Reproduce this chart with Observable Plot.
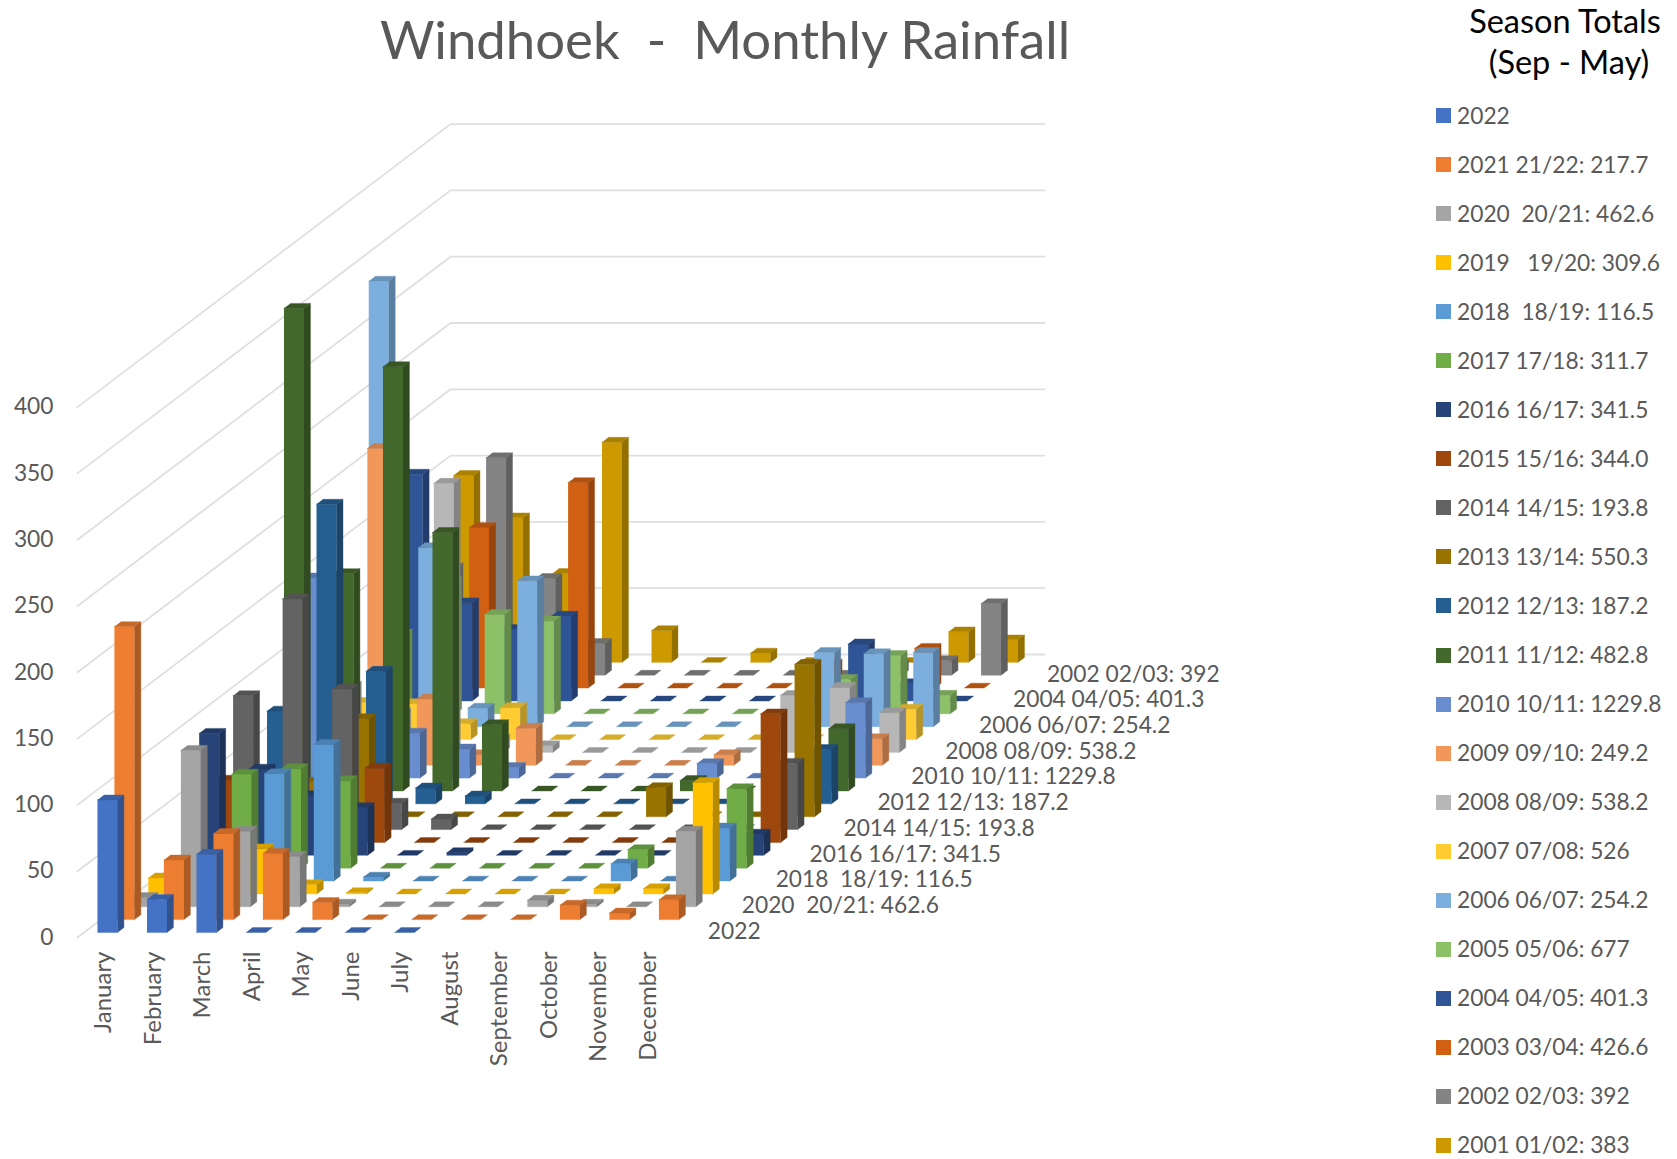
<!DOCTYPE html>
<html><head><meta charset="utf-8">
<script src="https://cdn.jsdelivr.net/npm/d3@7"></script>
<script src="https://cdn.jsdelivr.net/npm/@observablehq/plot@0.6"></script>
<style>
html,body{margin:0;background:#fff}
body{width:1677px;height:1159px;font-family:Lato,sans-serif;color:#595959}
#page{display:flex;align-items:flex-start}
#left{width:1436px}
#title{height:85px;box-sizing:border-box;padding-left:14px;text-align:center;font-size:52.7px;line-height:78px;white-space:pre;color:#595959}
#legend{width:241px;font-size:22.75px}
#lhead{height:106.5px;color:#000;font-size:32.5px;line-height:41px;text-align:center;padding-left:17px}
#lhead span{position:relative;left:4px}
.row{height:18px;margin-bottom:31.05px;line-height:18px;display:flex;align-items:center;white-space:pre}
.sw{width:15px;height:15px;margin-right:6px;flex:none}
</style></head><body>
<div id="page"><div id="left"><div id="title">Windhoek  -  Monthly Rainfall</div><div id="chart"></div></div><div id="legend"></div></div>
<script>
const months = ["January","February","March","April","May","June","July","August","September","October","November","December"];
const seriesNames = ["2022","2021 21/22: 217.7","2020  20/21: 462.6","2019   19/20: 309.6","2018  18/19: 116.5","2017 17/18: 311.7","2016 16/17: 341.5","2015 15/16: 344.0","2014 14/15: 193.8","2013 13/14: 550.3","2012 12/13: 187.2","2011 11/12: 482.8","2010 10/11: 1229.8","2009 09/10: 249.2","2008 08/09: 538.2","2007 07/08: 526","2006 06/07: 254.2","2005 05/06: 677","2004 04/05: 401.3","2003 03/04: 426.6","2002 02/03: 392","2001 01/02: 383"];
const seriesColors = ["#4472C4","#ED7D31","#A5A5A5","#FFC000","#5B9BD5","#70AD47","#264478","#9E480E","#636363","#997300","#255E91","#43682B","#698ED0","#F1975A","#B7B7B7","#FFCD33","#7CAFDD","#8CC168","#2F5597","#D26012","#848484","#CC9A00"];
const r2022 = [100,25,59,0,0,0,0,null,null,null,null,null];
const r2021 = [221,45,65,50,13,0,0,0,0,11,5,15];
const r2020 = [7,118,57,38,2,0,0,0,5,2,0,57];
const r2019 = [12,10,34,7,1,0,0,0,0,4,4,84];
const r2018 = [10,20,81,103,3,0,0,0,0,13,0,40];
const r2017 = [10,71,75,66,0,0,0,0,0,14,0,60];
const r2016 = [92,65,45,36,0,2,0,0,0,0,0,16];
const r2015 = [47,30,20,56,0,0,0,0,0,0,0,97];
const r2014 = [101,174,106,20,8,0,0,0,0,0,0,50];
const r2013 = [20,26,74,0,0,0,0,0,22,0,0,115];
const r2012 = [70,226,100,12,6,0,0,0,0,0,0,41];
const r2011 = [364,164,320,195,50,0,0,0,8,0,0,47];
const r2010 = [151,30,34,22,8,0,0,0,11,0,0,57];
const r2009 = [50,239,50,8,28,0,0,0,8,0,0,20];
const r2008 = [50,30,203,10,5,0,0,0,0,43,49,30];
const r2007 = [28,27,12,24,0,0,0,0,0,0,0,23];
const r2006 = [336,135,14,110,0,0,0,0,0,56,55,56];
const r2005 = [60,100,75,70,0,0,0,0,0,26,44,14];
const r2004 = [171,74,54,64,0,0,0,0,0,43,13,0];
const r2003 = [100,121,30,155,0,0,0,0,18,0,30,0];
const r2002 = [81,164,73,24,0,0,0,0,0,8,11,54];
const r2001 = [141,109,67,166,24,0,7,0,0,0,23,17];
const rainfall = [r2022,r2021,r2020,r2019,r2018,r2017,r2016,r2015,r2014,r2013,r2012,r2011,r2010,r2009,r2008,r2007,r2006,r2005,r2004,r2003,r2002,r2001];
const yTicks = [0,50,100,150,200,250,300,350,400];
const depthLabels = [0,2,4,6,8,10,12,14,16,18,20];

// Oblique projection of (month u, row w, rainfall v) into the two Plot scales
const rows = rainfall.length, a = 373/22/49.5, b = 283/22/1.326;
const W = 0.404, D = 0.38, U0 = 0.27, W0 = 0.39;
const P = (u,w,v) => ({X:u+a*w, Y:v+b*w});
const shade = (c,k) => { const r=d3.rgb(c); return d3.rgb(r.r*k,r.g*k,r.b*k).formatHex(); };

const grid = yTicks.flatMap(v => [[0,0],[0,rows],[12,rows]].map(([u,w]) => ({...P(u,w,v), id:v})));
const faces = [];
for (let s=rows-1; s>=0; s--) rainfall[s].forEach((v,m) => {
  if (v===null) return;
  const u=m+U0, w=s+W0, c=seriesColors[s];
  const add=(name,k,pts)=>pts.forEach(p=>faces.push({...P(...p),id:`${s}-${m}-${name}`,c:shade(c,k)}));
  if (v>0){
    add("f",1,[[u,w,0],[u+W,w,0],[u+W,w,v],[u,w,v]]);
    add("s",0.72,[[u+W,w,0],[u+W,w+D,0],[u+W,w+D,v],[u+W,w,v]]);
  }
  add("t",0.84,[[u,w,v],[u+W,w,v],[u+W,w+D,v],[u,w+D,v]]);
});
const monthData = months.map((name,m)=>({name,...P(m+U0+W/2,0,0)}));
const depthData = depthLabels.map(s=>({name:seriesNames[s],...P(12,s+W0+D/2,0)}));

const chart = Plot.plot({
  width:1436, height:1074, marginLeft:77, marginRight:0, marginTop:0, marginBottom:0,
  style:{fontFamily:"Lato,sans-serif",fontSize:"22.75px",color:"#595959",background:"#fff",whiteSpace:"pre",overflow:"visible"},
  x:{domain:[0,12+22*a],range:[77,1044],axis:null},
  y:{domain:[0,(937-125)/1.326],range:[852,40]},
  marks:[
    Plot.axisY({ticks:yTicks,tickSize:0,tickPadding:24,label:null,tickFormat:"d",fill:"#595959"}),
    Plot.line(grid,{x:"X",y:"Y",z:"id",stroke:"#DFDFDF",strokeWidth:1.8,curve:"linear"}),
    Plot.line(faces,{x:"X",y:"Y",z:"id",fill:"c",stroke:"c",strokeWidth:0.4,curve:"linear"}),
    Plot.text(monthData,{x:"X",y:"Y",text:"name",rotate:-90,textAnchor:"end",dx:2.5,dy:14,fontSize:24,fill:"#595959"}),
    Plot.text(depthData,{x:"X",y:"Y",text:"name",textAnchor:"start",dx:26.5,dy:1.5,fill:"#595959"})
  ]
});
document.getElementById("chart").appendChild(chart);

const lg=document.getElementById("legend");
const h=document.createElement("div");h.id="lhead";h.innerHTML="Season Totals<br><span>(Sep - May)</span>";lg.appendChild(h);
seriesNames.forEach((n,i)=>{
  const r=document.createElement("div");r.className="row";
  const s=document.createElement("span");s.className="sw";s.style.background=seriesColors[i];
  const t=document.createElement("span");t.textContent=n;
  r.append(s,t);lg.appendChild(r);
});
</script>
</body></html>
